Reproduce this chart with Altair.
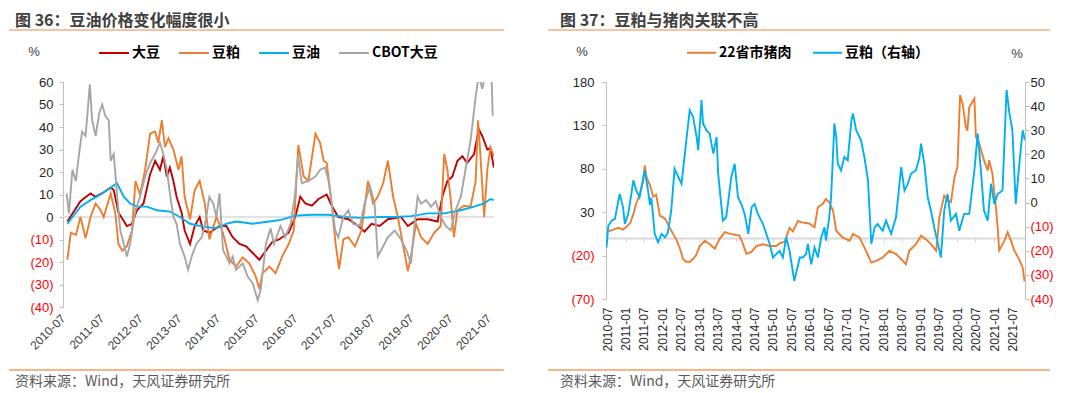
import altair as alt
import pandas as pd

# ---------------- data (decimal year, value) ----------------
# Figure 36 (left panel), % change
soybean = [(2010.61,-2),(2010.95,7),(2011.21,10.5),(2011.33,9),(2011.55,11),(2011.73,13),(2011.81,12),(2011.93,2),(2012.15,-4),(2012.28,-3),(2012.41,3),(2012.58,6),(2012.75,19),(2012.88,25),(2013.0,21),(2013.09,27),(2013.18,18),(2013.26,22),(2013.35,16),(2013.43,9),(2013.56,2),(2013.64,-6),(2013.78,-12),(2013.9,-4),(2014.03,0),(2014.12,-6),(2014.28,-7),(2014.54,-4),(2014.72,-4),(2014.88,-9),(2015.06,-12),(2015.23,-13),(2015.4,-16),(2015.57,-19),(2015.74,-15),(2015.91,-11),(2016.08,-10),(2016.33,-7),(2016.5,0),(2016.63,9),(2016.76,6),(2016.93,5),(2017.1,8),(2017.31,10),(2017.44,5),(2017.61,0),(2017.87,-1),(2018.13,-4),(2018.29,-6.5),(2018.47,-3),(2018.68,-4),(2018.89,-1),(2019.23,0),(2019.41,-4),(2019.66,-1),(2019.92,-1),(2020.18,-2),(2020.3,9),(2020.43,16),(2020.56,18),(2020.69,25),(2020.82,27),(2020.94,24),(2021.12,28),(2021.24,39),(2021.33,36),(2021.46,30),(2021.54,30.5),(2021.63,22)]

soymeal = [(2010.61,-19),(2010.7,-7),(2010.83,-8),(2010.95,0),(2011.08,-9.5),(2011.21,0),(2011.34,6),(2011.47,3),(2011.55,0),(2011.73,10.5),(2011.85,1.6),(2011.93,-12),(2012.03,-15),(2012.15,-13),(2012.28,-6),(2012.37,16),(2012.49,10),(2012.62,21),(2012.75,37),(2012.88,38),(2012.96,33),(2013.05,43),(2013.13,31),(2013.22,35),(2013.35,30),(2013.48,21),(2013.56,27),(2013.64,9),(2013.78,-1),(2013.9,12),(2014.03,16),(2014.16,6),(2014.28,-10),(2014.46,0),(2014.63,-7),(2014.8,-19),(2014.97,-22),(2015.14,-18),(2015.31,-20.6),(2015.48,-26.5),(2015.57,-32),(2015.65,-25),(2015.83,-22),(2015.99,-25),(2016.16,-17.6),(2016.33,-12),(2016.46,-6),(2016.58,32),(2016.72,18),(2016.84,16),(2017.02,37),(2017.14,33),(2017.23,25),(2017.31,24),(2017.44,6),(2017.54,-12),(2017.63,-23),(2017.74,-10),(2017.87,-9),(2018.04,-13),(2018.21,-6),(2018.38,16),(2018.51,6),(2018.63,9),(2018.77,15),(2018.89,25),(2019.03,9),(2019.15,0),(2019.28,-12),(2019.41,-24),(2019.49,-17.6),(2019.62,-3),(2019.75,-9),(2019.92,-12),(2020.09,-7),(2020.26,-4),(2020.35,28),(2020.43,21),(2020.52,7.5),(2020.6,-9),(2020.69,3),(2020.86,5),(2021.03,4.6),(2021.16,16),(2021.22,43),(2021.28,28),(2021.38,0),(2021.46,21),(2021.54,31),(2021.63,27)]

soyoil = [(2010.61,-3),(2010.95,4.6),(2011.21,7.5),(2011.47,10),(2011.73,13),(2011.89,15),(2012.07,9),(2012.23,6),(2012.41,4.6),(2012.66,4.6),(2012.92,3),(2013.26,2.4),(2013.52,0),(2013.78,-3),(2014.12,-4.3),(2014.46,-5),(2014.72,-3),(2014.97,-2),(2015.4,-3),(2015.83,-2),(2016.13,-1.3),(2016.5,0.6),(2016.93,1),(2017.36,1),(2017.78,0),(2018.21,-0.4),(2018.63,0),(2019.07,0),(2019.49,0.4),(2019.92,1.6),(2020.35,1.6),(2020.78,3),(2021.12,4.6),(2021.38,6),(2021.54,8),(2021.63,7.5)]

cbot = [(2010.59,10.5),(2010.65,1.6),(2010.74,21),(2010.83,16),(2010.91,28),(2010.99,38),(2011.08,36),(2011.13,46),(2011.19,59),(2011.25,43),(2011.34,36),(2011.43,46),(2011.51,50),(2011.59,45),(2011.68,43),(2011.73,25),(2011.81,28),(2011.89,10.5),(2011.98,-6),(2012.07,-12),(2012.15,-17.6),(2012.23,-12),(2012.37,3),(2012.49,9),(2012.62,18),(2012.75,24),(2012.88,28),(2013.0,33),(2013.09,28),(2013.18,21),(2013.26,10.5),(2013.35,0),(2013.43,-3),(2013.52,-12),(2013.64,-17.6),(2013.73,-23.5),(2013.82,-17.6),(2013.94,-12),(2014.08,-9),(2014.16,-4),(2014.28,9),(2014.38,6),(2014.46,0),(2014.54,10.5),(2014.63,-14.7),(2014.72,-17.6),(2014.8,-20.6),(2014.88,-17.6),(2014.97,-23.5),(2015.14,-20.6),(2015.27,-26.5),(2015.4,-29.5),(2015.53,-37),(2015.61,-32),(2015.74,-12),(2015.86,-5),(2015.95,-12),(2016.12,-4),(2016.24,-9),(2016.38,-3),(2016.5,10.5),(2016.57,27),(2016.67,15),(2016.84,16),(2017.02,18),(2017.14,21),(2017.27,22),(2017.36,16),(2017.44,6),(2017.53,-6),(2017.61,-9),(2017.74,0),(2017.87,3),(2017.99,-3),(2018.17,-4),(2018.29,6),(2018.43,13.5),(2018.55,6),(2018.63,-17.6),(2018.77,-13),(2018.89,-9),(2019.07,-6),(2019.23,-10),(2019.37,-14.7),(2019.49,-20.6),(2019.58,-4),(2019.66,9),(2019.75,6),(2019.88,7.5),(2020.01,4.6),(2020.13,7),(2020.26,0),(2020.39,-4),(2020.52,-6),(2020.64,3),(2020.78,9),(2020.9,21),(2021.03,34),(2021.16,53.5),(2021.24,63),(2021.33,57),(2021.42,64),(2021.5,66),(2021.57,62),(2021.6,45)]

# Figure 37 (right panel)
pork = [(2010.53,8),(2010.67,10),(2010.8,12),(2010.93,10),(2011.02,13),(2011.13,18),(2011.21,28),(2011.29,40),(2011.38,50),(2011.48,66),(2011.52,84),(2011.57,70),(2011.66,61),(2011.75,48),(2011.83,50),(2011.93,26),(2012.02,24),(2012.08,22),(2012.2,12),(2012.29,5),(2012.37,-1),(2012.47,-11),(2012.56,-24),(2012.64,-27),(2012.75,-27),(2012.83,-24),(2012.91,-20),(2013.01,-9),(2013.15,-3),(2013.28,-7),(2013.42,-12),(2013.55,-1),(2013.69,7),(2013.83,5),(2013.96,4),(2014.09,3),(2014.18,-6),(2014.28,-18),(2014.41,-16),(2014.55,-9),(2014.73,-7),(2014.91,-9),(2015.09,-9),(2015.18,-6),(2015.32,-4),(2015.45,12),(2015.54,8),(2015.68,20),(2015.81,18),(2015.99,17),(2016.13,12.5),(2016.22,35.7),(2016.35,39.5),(2016.44,45.3),(2016.53,41.5),(2016.63,31.8),(2016.72,8.7),(2016.89,1),(2017.08,-2.9),(2017.17,4.8),(2017.35,1),(2017.48,-10.6),(2017.67,-28),(2017.8,-26),(2017.98,-22.2),(2018.16,-14.5),(2018.34,-18.3),(2018.53,-26),(2018.61,-29.9),(2018.7,-14.5),(2018.88,-6.8),(2019.02,2.9),(2019.15,-1),(2019.29,-6.8),(2019.43,-14.5),(2019.52,24.1),(2019.65,49.2),(2019.74,43.4),(2019.83,41.5),(2019.93,70.4),(2020.01,82),(2020.08,165),(2020.15,155),(2020.24,128),(2020.28,124),(2020.33,151),(2020.47,161),(2020.51,117),(2020.6,109),(2020.73,90),(2020.83,78),(2020.87,90),(2020.96,74),(2021.05,36),(2021.1,12),(2021.14,-14),(2021.28,-3),(2021.37,7),(2021.46,-3),(2021.55,-14),(2021.68,-24),(2021.78,-34),(2021.83,-50)]

meal_r = [(2010.48,-18.6),(2010.53,-9.6),(2010.62,-7.5),(2010.71,-6.8),(2010.8,0.8),(2010.84,3.6),(2010.93,-2),(2010.98,-8.9),(2011.07,-4.7),(2011.16,4),(2011.21,9.2),(2011.29,5),(2011.38,2.2),(2011.48,10.6),(2011.52,13.3),(2011.61,5),(2011.66,-1),(2011.7,2),(2011.79,-13),(2011.88,-16.5),(2011.98,-13),(2012.07,-14.5),(2012.15,-12.4),(2012.24,-3.3),(2012.33,14),(2012.43,10.6),(2012.52,7.8),(2012.61,20.3),(2012.74,38.3),(2012.83,35.6),(2012.93,27.2),(2012.97,21.7),(2013.06,42.5),(2013.1,32.8),(2013.19,30),(2013.28,28.6),(2013.38,20.3),(2013.47,27.2),(2013.51,12),(2013.64,-7.5),(2013.73,-6.1),(2013.87,10.6),(2013.96,16.1),(2014.05,2.2),(2014.14,-0.6),(2014.23,-4.7),(2014.33,-13),(2014.42,-1.9),(2014.5,-0.6),(2014.59,-4.7),(2014.73,-8.9),(2014.91,-17.2),(2015.0,-22.8),(2015.09,-21.4),(2015.18,-20),(2015.27,-22.8),(2015.36,-14.4),(2015.45,-20),(2015.58,-32.5),(2015.73,-22.8),(2015.81,-22.8),(2015.9,-21.4),(2015.95,-17.2),(2016.04,-25.6),(2016.13,-18.6),(2016.22,-22.8),(2016.31,-14.4),(2016.4,-10.3),(2016.44,-15.8),(2016.53,-6.1),(2016.58,2.2),(2016.67,32.8),(2016.72,27.2),(2016.76,16.1),(2016.85,13.3),(2016.94,18.9),(2017.03,17.5),(2017.13,34.2),(2017.17,36.9),(2017.26,30),(2017.39,25.8),(2017.48,18.9),(2017.58,9.2),(2017.67,-17.2),(2017.76,-10.3),(2017.84,-8.9),(2017.98,-11.7),(2018.07,-7.5),(2018.21,-13),(2018.34,-6.1),(2018.48,14.7),(2018.57,5),(2018.66,7.8),(2018.75,12),(2018.88,13.3),(2018.98,18.9),(2019.02,24.4),(2019.11,16.1),(2019.2,2.2),(2019.29,-3.3),(2019.38,-10.3),(2019.48,-17.2),(2019.56,-22.8),(2019.65,-3.3),(2019.74,3.6),(2019.83,-7.5),(2019.97,-4.7),(2020.06,-11.7),(2020.19,-4.7),(2020.33,-4.7),(2020.47,13.3),(2020.56,28.6),(2020.64,14.7),(2020.73,-3.3),(2020.83,-7.5),(2020.92,7.8),(2021.01,-0.6),(2021.1,3.6),(2021.23,5),(2021.34,46.7),(2021.42,36.9),(2021.5,30),(2021.59,-0.6),(2021.68,14.7),(2021.78,30),(2021.84,25.8)]

left_names = ["大豆", "豆粕", "豆油", "CBOT大豆"]
left_colors = ["#C00000", "#ED7D31", "#00B0F0", "#A6A6A6"]
right_names = ["22省市猪肉", "豆粕（右轴）"]
right_colors = ["#ED7D31", "#00B0F0"]
left_x_ticks = [(y, 7) for y in range(2010, 2022)]
right_x_ticks = [(2010, 7)] + [(y, m) for y in range(2011, 2022) for m in (1, 7)]
left_y_ticks = list(range(-40, 61, 10))
right_y1_ticks = [-70, -20, 30, 80, 130, 180]
right_y2_ticks = list(range(-40, 51, 10))
right_x_domain = ["2010-06-20", "2021-11-04"]

TITLE1 = "图 36：豆油价格变化幅度很小"
TITLE2 = "图 37：豆粕与猪肉关联不高"
SOURCE = "资料来源：Wind，天风证券研究所"

CJK = "Noto Sans CJK SC"
NUM = "Liberation Sans"


def to_date(t):
    y = int(t)
    d = pd.Timestamp(year=y, month=1, day=1) + pd.Timedelta(days=(t - y) * 365.25)
    return d.strftime("%Y-%m-%d")


def frame(pairs, name):
    return pd.DataFrame({
        "date": [to_date(t) for t, _ in pairs],
        "value": [v for _, v in pairs],
        "series": name,
    })


neg_expr = "datum.value < 0 ? '(' + abs(datum.value) + ')' : '' + datum.value"
neg_color = {"condition": {"test": "datum.value < 0", "value": "#FF0000"}, "value": "#262626"}


def deco(title, x_start, x_end, title_x, pct_list):
    one = pd.DataFrame({"k": [0]})
    layers = [
        alt.Chart(one).mark_text(text=title, align="left", baseline="middle",
                                 font=CJK, fontSize=16, fontWeight="bold", color="#404040")
        .encode(x=alt.value(title_x), y=alt.value(-61)),
        alt.Chart(one).mark_rule(color="#F4B183", strokeWidth=1.5)
        .encode(x=alt.value(x_start), x2=alt.value(x_end), y=alt.value(-52)),
        alt.Chart(one).mark_rule(color="#F0A060", strokeWidth=1.5)
        .encode(x=alt.value(x_start), x2=alt.value(x_end), y=alt.value(288)),
        alt.Chart(one).mark_text(text=SOURCE, align="left", baseline="middle",
                                 font=CJK, fontSize=14, color="#595959")
        .encode(x=alt.value(title_x), y=alt.value(300)),
    ]
    for px, py in pct_list:
        layers.append(alt.Chart(one).mark_text(text="%", align="center", baseline="middle",
                                               font=NUM, fontSize=13, color="#404040")
                      .encode(x=alt.value(px), y=alt.value(py)))
    return layers


# ---------------- left panel ----------------
W1, H1 = 431, 225
left_df = pd.concat([frame(soybean, left_names[0]), frame(soymeal, left_names[1]),
                     frame(soyoil, left_names[2]), frame(cbot, left_names[3])])

x1 = alt.X("date:T", title=None,
           scale=alt.Scale(domain=["2010-07-01", "2021-08-20"]),
           axis=alt.Axis(values=[alt.DateTime(year=y, month=m, date=1) for y, m in left_x_ticks],
                         format="%Y-%m", labelAngle=-45, labelAlign="right", labelBaseline="middle",
                         domain=False, ticks=False, grid=False,
                         labelFont=NUM, labelFontSize=12, labelColor="#404040", labelPadding=9,
                         labelOverlap=False))
y1_axis = alt.Axis(values=left_y_ticks, labelExpr=neg_expr, labelColor=neg_color,
                   labelFont=NUM, labelFontSize=13, grid=False, domainColor="#BFBFBF",
                   tickColor="#BFBFBF", tickSize=4, labelPadding=6)
y1_scale = alt.Scale(domain=[-40, 60], nice=False)
y1 = alt.Y("value:Q", title=None, scale=y1_scale, axis=y1_axis)
color1 = alt.Color("series:N",
                   scale=alt.Scale(domain=left_names, range=left_colors),
                   legend=alt.Legend(title=None, orient="none", legendX=35, legendY=-45,
                                     direction="horizontal", symbolType="stroke", symbolSize=900,
                                     symbolStrokeWidth=2, labelFont=CJK, labelFontSize=14,
                                     labelFontWeight="bold", labelColor="#000000", labelOffset=2,
                                     columnPadding=15, padding=0))

zero1 = alt.Chart(pd.DataFrame({"value": [0]})).mark_rule(color="#D9D9D9", strokeWidth=1.5).encode(
    y=alt.Y("value:Q", title=None, scale=y1_scale, axis=y1_axis))
lines1 = [alt.Chart(left_df).transform_filter(alt.datum.series == n)
          .mark_line(strokeWidth=1.9, clip=True).encode(x=x1, y=y1, color=color1)
          for n in left_names]

left = alt.layer(zero1, *lines1, *deco(TITLE1, -54, 441, -48, [(-29, -30)])).properties(
    width=W1, height=H1)

# ---------------- right panel ----------------
W2, H2 = 419, 217
Y2_LEFT = [-70, 180]
zero_offset = -(H2 - H2 * Y2_LEFT[1] / (Y2_LEFT[1] - Y2_LEFT[0]))
pork_df = frame(pork, right_names[0])
meal_df = frame(meal_r, right_names[1])
tick_dates = [alt.DateTime(year=y, month=m, date=1) for y, m in right_x_ticks]
x2_scale = alt.Scale(domain=right_x_domain)

x2 = alt.X("date:T", title=None, scale=x2_scale,
           axis=alt.Axis(orient="bottom", values=tick_dates,
                         format="%Y-%m", labelAngle=-90, domain=False, ticks=False, grid=False,
                         labelFont=NUM, labelFontSize=12, labelColor="#262626", labelPadding=8,
                         labelOverlap=False))
color2 = alt.Color("series:N",
                   scale=alt.Scale(domain=right_names, range=right_colors),
                   legend=alt.Legend(title=None, orient="none", legendX=80, legendY=-45,
                                     direction="horizontal", symbolType="stroke", symbolSize=841,
                                     symbolStrokeWidth=2, labelFont=CJK, labelFontSize=14,
                                     labelFontWeight="bold", labelColor="#000000", labelOffset=2,
                                     columnPadding=17, padding=0))

# zero line drawn as an axis baseline (with its tick marks) at value 0 of the left scale
zero_df = pd.DataFrame({"date": right_x_domain, "value": [0, 0]})
zero2 = alt.Chart(zero_df).mark_line(strokeWidth=1.5, color="#D9D9D9").encode(
    x=alt.X("date:T", title=None, scale=x2_scale,
            axis=alt.Axis(orient="bottom", values=tick_dates, labels=False, domain=True,
                          domainColor="#D9D9D9", domainWidth=1.5, ticks=True, tickColor="#D9D9D9",
                          tickSize=4, grid=False, offset=zero_offset)),
    y=alt.Y("value:Q", title=None, scale=alt.Scale(domain=Y2_LEFT, nice=False), axis=None))
pork_line = alt.Chart(pork_df).mark_line(strokeWidth=1.9, clip=True).encode(
    x=x2,
    y=alt.Y("value:Q", title=None, scale=alt.Scale(domain=Y2_LEFT, nice=False),
            axis=alt.Axis(orient="left", values=right_y1_ticks, labelExpr=neg_expr,
                          labelColor=neg_color, labelFont=NUM, labelFontSize=13, grid=False,
                          domainColor="#BFBFBF", tickColor="#BFBFBF", tickSize=4, labelPadding=8)),
    color=color2)
meal_line = alt.Chart(meal_df).mark_line(strokeWidth=1.9, clip=True).encode(
    x=alt.X("date:T", title=None, scale=x2_scale, axis=None),
    y=alt.Y("value:Q", title=None, scale=alt.Scale(domain=[-40, 50], nice=False),
            axis=alt.Axis(orient="right", values=right_y2_ticks, labelExpr=neg_expr,
                          labelColor=neg_color, labelFont=NUM, labelFontSize=13, grid=False,
                          domainColor="#BFBFBF", tickColor="#BFBFBF", tickSize=4, labelPadding=1)),
    color=color2)

right = (alt.layer(zero2, pork_line, meal_line,
                   *deco(TITLE2, -58, 444, -46, [(-24, -30), (411, -28)]))
         .resolve_scale(y="independent")
         .resolve_axis(x="independent")
         .properties(width=W2, height=H2))

chart = (alt.hconcat(left, right, spacing=42)
         .resolve_scale(color="independent")
         .resolve_legend(color="independent")
         .properties(padding={"left": 0, "top": 5, "right": 0, "bottom": 0}, background="white")
         .configure_view(stroke=None))

chart.save("out.html", embed_options={"renderer": "svg", "actions": False})
